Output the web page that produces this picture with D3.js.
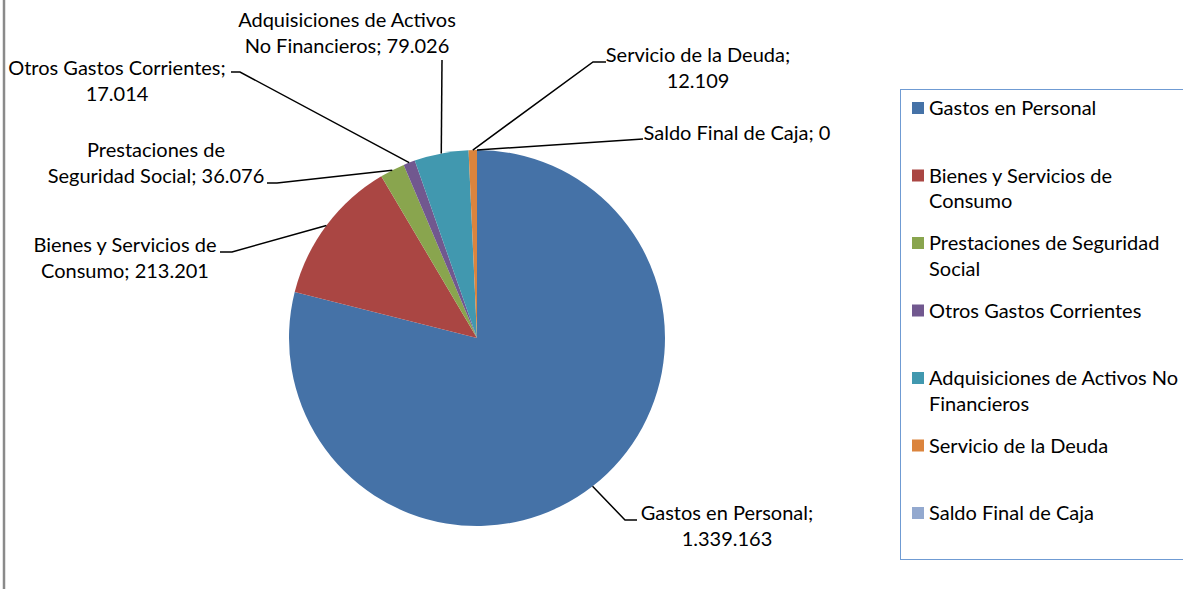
<!DOCTYPE html>
<html>
<head>
<meta charset="utf-8">
<script src="https://cdn.jsdelivr.net/npm/d3@7"></script>
<style>
  body { margin: 0; background: #fff; }
  svg { display: block; font-family: Lato, "Open Sans", sans-serif; }
</style>
</head>
<body>
<div id="chart"></div>
<script>
const categories = [
  "Gastos en Personal",
  "Bienes y Servicios de Consumo",
  "Prestaciones de Seguridad Social",
  "Otros Gastos Corrientes",
  "Adquisiciones de Activos No Financieros",
  "Servicio de la Deuda",
  "Saldo Final de Caja"
];
const values = [1339163, 213201, 36076, 17014, 79026, 12109, 0];
const colors = ["#4572A7", "#AA4643", "#89A54E", "#71588F", "#4198AF", "#DB843D", "#93A9CF"];

// words on the first line of each data label / legend entry
const labelFirstLineWords = [3, 4, 2, 3, 3, 4, 6];
const legendFirstLineWords = [3, 4, 3, 3, 4, 4, 4];

// where each data label sits and how its leader line bends
const labelLayout = [
  { x: 727, y: 513, path: [[625, 520], [637, 520]] },
  { x: 125, y: 245, path: [[232, 252], [220, 252]] },
  { x: 156, y: 150, path: [[277, 183], [267, 183]] },
  { x: 117, y: 68, path: [[240, 72], [231, 72]] },
  { x: 347, y: 20, path: [[442, 60]] },
  { x: 698, y: 55, path: [[593, 62], [606, 62]] },
  { x: 737, y: 133, path: [[643, 139]] }
];

const W = 1183, H = 589;
const cx = 477, cy = 338, r = 188;
const fontSize = 20, lineH = 25.5;

const esLocale = d3.formatLocale({ decimal: ",", thousands: ".", grouping: [3], currency: ["", ""] });
const fmt = esLocale.format(",");

const data = categories.map((c, i) => ({ name: c, value: values[i], color: colors[i] }));

function splitWords(text, n) {
  const w = text.split(" ");
  const lines = [w.slice(0, n).join(" ")];
  if (w.length > n) lines.push(w.slice(n).join(" "));
  return lines;
}

const svg = d3.select("#chart")
  .append("svg")
  .attr("width", W)
  .attr("height", H);

svg.append("rect").attr("width", W).attr("height", H).attr("fill", "#fff");

// left chart border
svg.append("line")
  .attr("x1", 4).attr("x2", 4)
  .attr("y1", 0).attr("y2", H)
  .attr("stroke", "#8a8a8a")
  .attr("stroke-width", 2.5);

const pie = d3.pie().sort(null).value(d => d.value);
const arcs = pie(data);
const arc = d3.arc().innerRadius(0).outerRadius(r);
const edge = d3.arc().innerRadius(r).outerRadius(r);

const g = svg.append("g").attr("transform", `translate(${cx},${cy})`);

g.selectAll("path.slice")
  .data(arcs)
  .join("path")
  .attr("class", "slice")
  .attr("d", arc)
  .attr("fill", d => d.data.color);

// leader lines
const line = d3.line();
svg.selectAll("path.leader")
  .data(arcs)
  .join("path")
  .attr("class", "leader")
  .attr("fill", "none")
  .attr("stroke", "#000")
  .attr("stroke-width", 1.5)
  .attr("d", (d, i) => {
    const [ex, ey] = edge.centroid(d);
    return line([[cx + ex, cy + ey], ...labelLayout[i].path]);
  });

// data labels
const labels = svg.selectAll("text.dlabel")
  .data(arcs)
  .join("text")
  .attr("class", "dlabel")
  .attr("text-anchor", "middle")
  .attr("font-size", fontSize)
  .attr("fill", "#000");

labels.each(function (d, i) {
  const text = `${d.data.name}; ${fmt(d.data.value)}`;
  const lines = splitWords(text, labelFirstLineWords[i]);
  d3.select(this).selectAll("tspan")
    .data(lines)
    .join("tspan")
    .attr("x", labelLayout[i].x)
    .attr("y", (l, j) => labelLayout[i].y + j * lineH)
    .attr("dy", "0.35em")
    .text(l => l);
});

// legend
const legendX = 900.5, legendY = 89.5;
const legend = svg.append("g");
legend.append("rect")
  .attr("x", legendX).attr("y", legendY)
  .attr("width", 300).attr("height", 470)
  .attr("fill", "none")
  .attr("stroke", "#6f9bd3")
  .attr("stroke-width", 1);

const entryY = d3.scaleLinear().domain([0, 1]).range([108, 175.5]);

const items = legend.selectAll("g.item")
  .data(data)
  .join("g")
  .attr("class", "item")
  .attr("transform", (d, i) => `translate(0,${entryY(i)})`);

items.append("rect")
  .attr("x", 912).attr("y", -6)
  .attr("width", 12).attr("height", 12)
  .attr("fill", d => d.color);

items.append("text")
  .attr("font-size", fontSize)
  .attr("fill", "#000")
  .each(function (d, i) {
    d3.select(this).selectAll("tspan")
      .data(splitWords(d.name, legendFirstLineWords[i]))
      .join("tspan")
      .attr("x", 929)
      .attr("y", (l, j) => j * lineH)
      .attr("dy", "0.35em")
      .text(l => l);
  });
</script>
</body>
</html>
